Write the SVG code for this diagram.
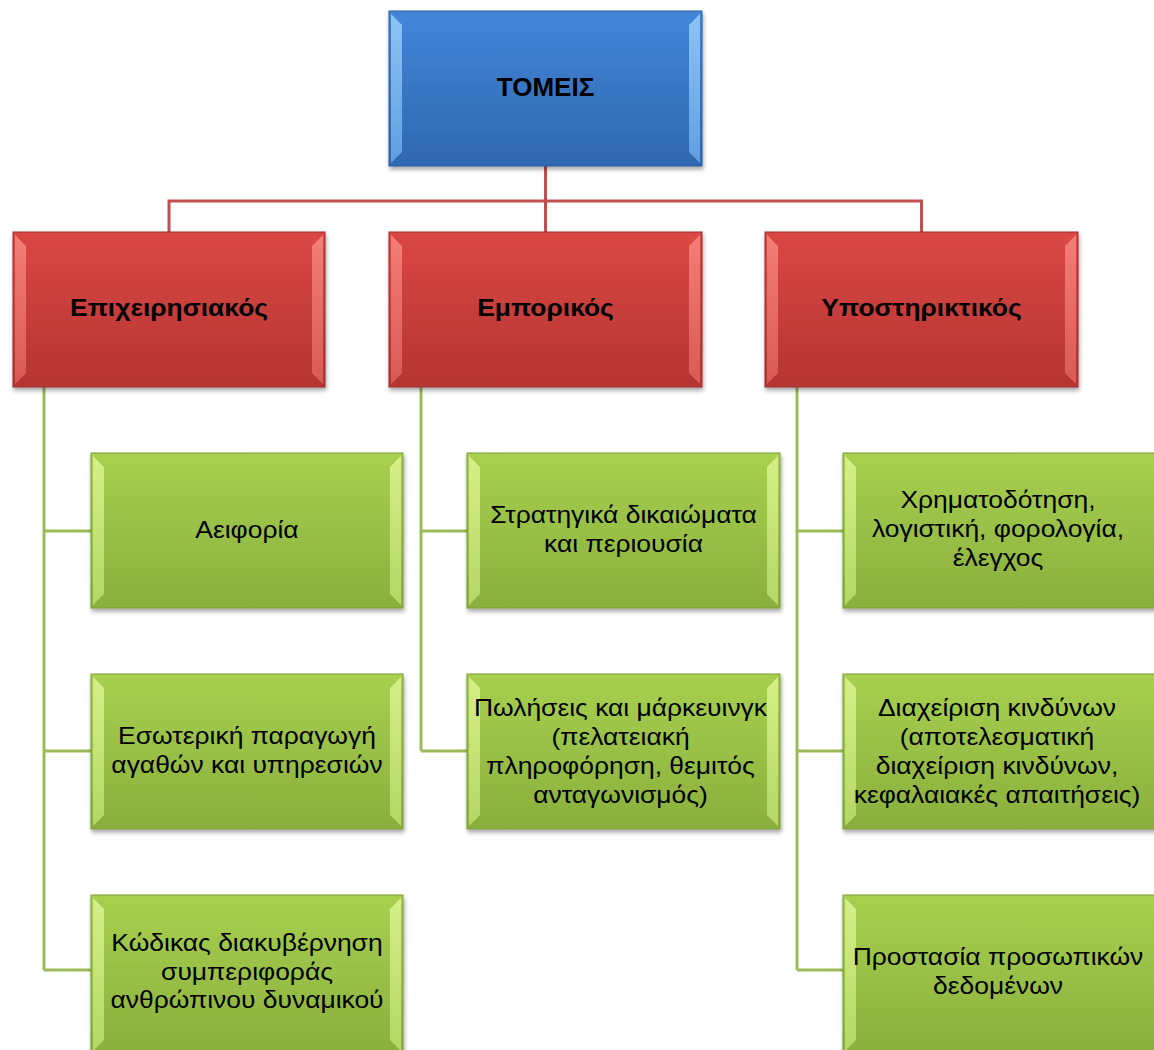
<svg xmlns="http://www.w3.org/2000/svg" width="1154" height="1050" viewBox="0 0 1154 1050">
<defs>
<linearGradient id="gBlue" x1="0" y1="0" x2="0" y2="1"><stop offset="0" stop-color="#4386d8"/><stop offset="1" stop-color="#2f67b0"/></linearGradient>
<linearGradient id="gRed" x1="0" y1="0" x2="0" y2="1"><stop offset="0" stop-color="#da4744"/><stop offset="1" stop-color="#b53532"/></linearGradient>
<linearGradient id="gGreen" x1="0" y1="0" x2="0" y2="1"><stop offset="0" stop-color="#a8d04f"/><stop offset="1" stop-color="#8aaf3d"/></linearGradient>
<linearGradient id="bevBlue" x1="0" y1="0" x2="0" y2="1"><stop offset="0" stop-color="#8ec4f4"/><stop offset="1" stop-color="#5f9fe0"/></linearGradient>
<linearGradient id="bevRed" x1="0" y1="0" x2="0" y2="1"><stop offset="0" stop-color="#f47e78"/><stop offset="1" stop-color="#d85a55"/></linearGradient>
<linearGradient id="bevGreen" x1="0" y1="0" x2="0" y2="1"><stop offset="0" stop-color="#d6ef8a"/><stop offset="1" stop-color="#b5d765"/></linearGradient>
<filter id="sh" x="-5%" y="-5%" width="115%" height="120%"><feDropShadow dx="1" dy="3" stdDeviation="2" flood-color="#000" flood-opacity="0.35"/></filter>
</defs>
<style>
.t{font-family:"Liberation Sans",Arial,sans-serif;text-anchor:middle;fill:#000}
.b{font-weight:bold;font-size:24px}
.g{font-size:23px}
.blue{fill:url(#gBlue);stroke:#2a5d9f;stroke-width:1}
.red{fill:url(#gRed);stroke:#9c2d2a;stroke-width:1}
.green{fill:url(#gGreen);stroke:#7a9c36;stroke-width:1}
.bb{fill:url(#bevBlue)}
.br{fill:url(#bevRed)}
.bg{fill:url(#bevGreen)}
.cr{stroke:#c0504d;stroke-width:3;fill:none}
.cg{stroke:#9bbb59;stroke-width:3;fill:none}
</style>

<g id="connectors">
<path class="cr" d="M545.5,166 V201 M169,232 V201 H921.5 V232 M545.5,201 V232"/>
<path class="cg" d="M44,387 V970 M44,531 H91 M44,751 H91 M44,970 H91"/>
<path class="cg" d="M421,387 V751 M421,531 H467 M421,751 H467"/>
<path class="cg" d="M797,387 V970 M797,531 H843 M797,751 H843 M797,970 H843"/>
</g>

<g id="tomeis">
<rect class="blue" x="389" y="11" width="313" height="155" filter="url(#sh)"/>
<polygon class="bb" points="391,14 402,25 402,152 391,163"/>
<polygon class="bb" points="700,14 689,25 689,152 700,163"/>
<text class="t b" style="font-size:26px" x="545.5" y="96">ΤΟΜΕΙΣ</text>
</g>

<g id="epix">
<rect class="red" x="13" y="232" width="312" height="155" filter="url(#sh)"/>
<polygon class="br" points="15,235 26,246 26,373 15,384"/>
<polygon class="br" points="323,235 312,246 312,373 323,384"/>
<text class="t b" transform="translate(169 0) scale(1.1 1)" x="0" y="316">Επιχειρησιακός</text>
</g>

<g id="empor">
<rect class="red" x="389" y="232" width="313" height="155" filter="url(#sh)"/>
<polygon class="br" points="391,235 402,246 402,373 391,384"/>
<polygon class="br" points="700,235 689,246 689,373 700,384"/>
<text class="t b" transform="translate(545.5 0) scale(1.1 1)" x="0" y="316">Εμπορικός</text>
</g>

<g id="ypost">
<rect class="red" x="765" y="232" width="313" height="155" filter="url(#sh)"/>
<polygon class="br" points="767,235 778,246 778,373 767,384"/>
<polygon class="br" points="1076,235 1065,246 1065,373 1076,384"/>
<text class="t b" transform="translate(921.5 0) scale(1.1 1)" x="0" y="316">Υποστηρικτικός</text>
</g>

<g id="aeiforia">
<rect class="green" x="91" y="453" width="312" height="155" filter="url(#sh)"/>
<polygon class="bg" points="93,456 104,467 104,594 93,605"/>
<polygon class="bg" points="401,456 390,467 390,594 401,605"/>
<g transform="translate(247 0) scale(1.15 1)">
<text class="t g" x="0" y="538">Αειφορία</text>
</g>
</g>

<g id="esoteriki">
<rect class="green" x="91" y="674" width="312" height="155" filter="url(#sh)"/>
<polygon class="bg" points="93,677 104,688 104,815 93,826"/>
<polygon class="bg" points="401,677 390,688 390,815 401,826"/>
<g transform="translate(247 0) scale(1.15 1)">
<text class="t g" x="0" y="744">Εσωτερική παραγωγή</text>
<text class="t g" x="0" y="773">αγαθών και υπηρεσιών</text>
</g>
</g>

<g id="kodikas">
<rect class="green" x="91" y="895" width="312" height="160" filter="url(#sh)"/>
<polygon class="bg" points="93,898 104,909 104,1040 93,1051"/>
<polygon class="bg" points="401,898 390,909 390,1040 401,1051"/>
<g transform="translate(247 0) scale(1.15 1)">
<text class="t g" x="0" y="951">Κώδικας διακυβέρνηση</text>
<text class="t g" x="0" y="980">συμπεριφοράς</text>
<text class="t g" x="0" y="1008">ανθρώπινου δυναμικού</text>
</g>
</g>

<g id="stratigika">
<rect class="green" x="467" y="453" width="313" height="155" filter="url(#sh)"/>
<polygon class="bg" points="469,456 480,467 480,594 469,605"/>
<polygon class="bg" points="778,456 767,467 767,594 778,605"/>
<g transform="translate(623.5 0) scale(1.15 1)">
<text class="t g" x="0" y="523">Στρατηγικά δικαιώματα</text>
<text class="t g" x="0" y="552">και περιουσία</text>
</g>
</g>

<g id="poliseis">
<rect class="green" x="467" y="674" width="313" height="155" filter="url(#sh)"/>
<polygon class="bg" points="469,677 480,688 480,815 469,826"/>
<polygon class="bg" points="778,677 767,688 767,815 778,826"/>
<g transform="translate(620.5 0) scale(1.15 1)">
<text class="t g" x="0" y="716">Πωλήσεις και μάρκευινγκ</text>
<text class="t g" x="0" y="745">(πελατειακή</text>
<text class="t g" x="0" y="774">πληροφόρηση, θεμιτός</text>
<text class="t g" x="0" y="803">ανταγωνισμός)</text>
</g>
</g>

<g id="xrimato">
<rect class="green" x="843" y="453" width="320" height="155" filter="url(#sh)"/>
<polygon class="bg" points="845,456 856,467 856,594 845,605"/>
<g transform="translate(998 0) scale(1.15 1)">
<text class="t g" x="0" y="508">Χρηματοδότηση,</text>
<text class="t g" x="0" y="537">λογιστική, φορολογία,</text>
<text class="t g" x="0" y="566">έλεγχος</text>
</g>
</g>

<g id="diaxeirisi">
<rect class="green" x="843" y="674" width="320" height="155" filter="url(#sh)"/>
<polygon class="bg" points="845,677 856,688 856,815 845,826"/>
<g transform="translate(997 0) scale(1.15 1)">
<text class="t g" x="0" y="716">Διαχείριση κινδύνων</text>
<text class="t g" x="0" y="745">(αποτελεσματική</text>
<text class="t g" x="0" y="774">διαχείριση κινδύνων,</text>
<text class="t g" x="0" y="803">κεφαλαιακές απαιτήσεις)</text>
</g>
</g>

<g id="prostasia">
<rect class="green" x="843" y="895" width="320" height="160" filter="url(#sh)"/>
<polygon class="bg" points="845,898 856,909 856,1040 845,1051"/>
<g transform="translate(998 0) scale(1.15 1)">
<text class="t g" x="0" y="965">Προστασία προσωπικών</text>
<text class="t g" x="0" y="994">δεδομένων</text>
</g>
</g>
</svg>
